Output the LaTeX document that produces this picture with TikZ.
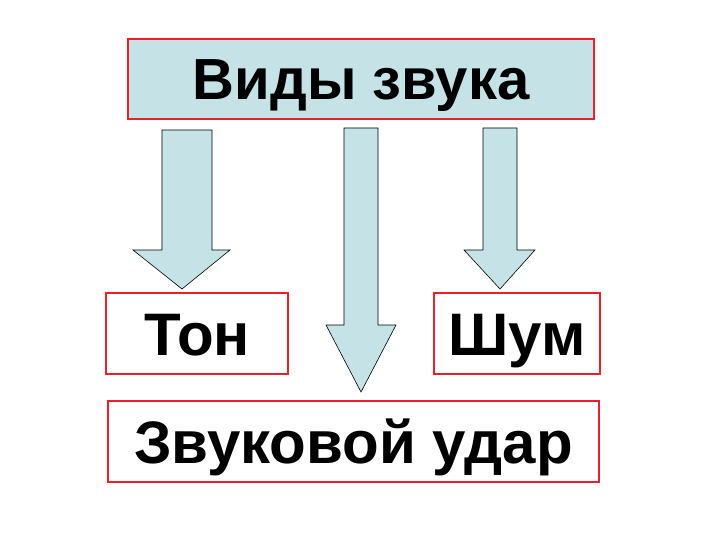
\documentclass[tikz,border=0pt]{standalone}
\usepackage{fontspec}
\setmainfont{Liberation Sans}
\definecolor{lb}{HTML}{C5E3E6}
\definecolor{rb}{HTML}{E8202A}
\begin{document}
\begin{tikzpicture}[x=1pt,y=-1pt,
  box/.style={draw=rb,line width=2pt,inner sep=0pt,anchor=north west,font=\bfseries,text depth=0pt},
  barrow/.style={draw=black,fill=lb,line width=0.6pt,line join=miter}]
\useasboundingbox (0,0) rectangle (720,540);
\node[box,fill=lb,minimum width=466pt,minimum height=80pt,text height=41.5pt] (top) at (127,38) {\fontsize{58}{58}\selectfont Виды звука};
\node[box,fill=white,minimum width=182pt,minimum height=81pt,text height=43pt] (ton) at (105,292) {\fontsize{60}{60}\selectfont Тон};
\node[box,fill=white,minimum width=166pt,minimum height=81pt,text height=43pt] (shum) at (433,292) {\fontsize{60}{60}\selectfont Шум};
\node[box,fill=white,minimum width=491pt,minimum height=81pt,text height=43pt] (udar) at (107,400) {\fontsize{60}{60}\selectfont Звуковой удар};
\draw[barrow] (162,130) -- (212,130) -- (212,250) -- (230,250) -- (182,289) -- (133,250) -- (162,250) -- cycle;
\draw[barrow] (344,128) -- (378,128) -- (378,325) -- (396,325) -- (361,392) -- (326,325) -- (344,325) -- cycle;
\draw[barrow] (483,128) -- (517,128) -- (517,250) -- (535,250) -- (500,289) -- (464,250) -- (483,250) -- cycle;
\end{tikzpicture}
\end{document}
